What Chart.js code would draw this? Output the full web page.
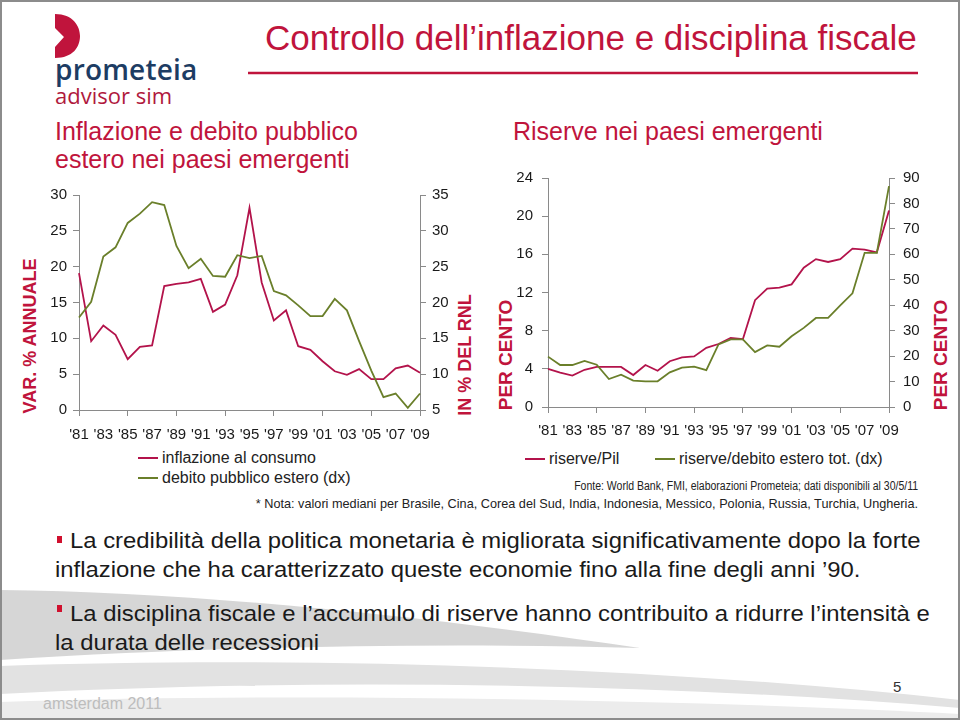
<!DOCTYPE html>
<html lang="it">
<head>
<meta charset="utf-8">
<title>Controllo dell'inflazione e disciplina fiscale</title>
<script src="https://cdn.jsdelivr.net/npm/chart.js@4.4.1/dist/chart.umd.min.js"></script>
<style>
    html, body { margin: 0; padding: 0; background: #fff; }
    #slide { position: relative; width: 960px; height: 720px; overflow: hidden; font-family: 'Liberation Sans', Arial, sans-serif; color: #1a1a1a; }
    .abs { position: absolute; white-space: nowrap; line-height: 1; }
    .rosso { color: #c0143c; }
    .asse { position: absolute; white-space: nowrap; line-height: 1; font-weight: bold; color: #c0143c; transform: translate(-50%, -50%) rotate(-90deg); }
    .legenda { position: absolute; white-space: nowrap; line-height: 1; font-size: 16px; color: #222; }
    .legenda i { display: inline-block; width: 20px; height: 2px; vertical-align: middle; margin-right: 4px; position: relative; top: -1px; }
    .punto { position: absolute; width: 5px; height: 7px; background: #d0102e; }
    .testo { position: absolute; white-space: nowrap; line-height: 1; font-size: 22px; transform-origin: 0 0; transform: scaleX(1.085); }
    #cornice { position: absolute; left: 0; top: 0; width: 960px; height: 720px; box-sizing: border-box; border: 2px solid #8c8c8c; pointer-events: none; }
</style>
</head>
<body>
<div id="slide">
    <!-- sfondo, logo e linea del titolo -->
    <svg class="abs" style="left:0;top:0" width="960" height="720">
        <path d="M0,590 C200,592 430,617 640,648 C430,642 200,647 0,660 Z" fill="#cccccc" opacity="0.8"/>
        <path d="M0,666 C300,656 650,666 960,700 L960,708 C650,682 300,678 0,694 Z" fill="#e2e2e2"/>
        <path d="M0,702 C300,692 700,700 960,714 L960,720 L0,720 Z" fill="#ececec"/>
        <path d="M55,14 C73,14 80,26 80,36 C80,47 73,58 55,58 L55,47 L64,37 L55,28 Z" fill="#c0143c"/>
        <line x1="248" y1="73" x2="918" y2="73" stroke="#c0143c" stroke-width="2.5"/>
    </svg>

    <div class="abs" style="left:55px;top:55px;font-family:'Open Sans',sans-serif;font-size:28px;font-weight:600;letter-spacing:0.2px;color:#1d3c63">prometeia</div>
    <div class="abs" style="left:55px;top:83.5px;font-family:'Open Sans',sans-serif;font-size:22px;color:#b0193d">advisor sim</div>

    <div class="abs rosso" style="left:265px;top:20px;font-size:35px">Controllo dell’inflazione e disciplina fiscale</div>

    <div class="abs rosso" style="left:55px;top:119px;font-size:25px">Inflazione e debito pubblico</div>
    <div class="abs rosso" style="left:55px;top:147px;font-size:25px">estero nei paesi emergenti</div>
    <div class="abs rosso" style="left:513px;top:119px;font-size:25px">Riserve nei paesi emergenti</div>

    <!-- titoli degli assi -->
    <div class="asse" style="left:30px;top:336px;font-size:18px">VAR. % ANNUALE</div>
    <div class="asse" style="left:465px;top:355px;font-size:18px">IN % DEL RNL</div>
    <div class="asse" style="left:505px;top:355px;font-size:19px">PER CENTO</div>
    <div class="asse" style="left:940px;top:355px;font-size:19px">PER CENTO</div>

    <canvas id="graficoInflazione" class="abs" style="left:40px;top:180px" width="430" height="265"></canvas>
    <canvas id="graficoRiserve" class="abs" style="left:500px;top:160px" width="440" height="285"></canvas>

    <!-- legende -->
    <div class="legenda" style="left:138px;top:450px"><i style="background:#b3134b"></i>inflazione al consumo</div>
    <div class="legenda" style="left:138px;top:470px"><i style="background:#6a7f2a"></i>debito pubblico estero (dx)</div>
    <div class="legenda" style="left:525px;top:451px"><i style="background:#b3134b"></i>riserve/Pil</div>
    <div class="legenda" style="left:655px;top:451px"><i style="background:#6a7f2a"></i>riserve/debito estero tot. (dx)</div>

    <div class="abs" style="right:42px;top:480px;font-size:12px;color:#222;transform-origin:100% 0;transform:scaleX(0.875)">Fonte: World Bank, FMI, elaborazioni Prometeia; dati disponibili al 30/5/11</div>
    <div class="abs" style="right:42px;top:498px;font-size:12.7px;color:#222">* Nota: valori mediani per Brasile, Cina, Corea del Sud, India, Indonesia, Messico, Polonia, Russia, Turchia, Ungheria.</div>

    <!-- punti elenco -->
    <div class="punto" style="left:57px;top:536px"></div>
    <div class="testo" style="left:70px;top:530px">La credibilità della politica monetaria è migliorata significativamente dopo la forte</div>
    <div class="testo" style="left:55px;top:559px">inflazione che ha caratterizzato queste economie fino alla fine degli anni ’90.</div>
    <div class="punto" style="left:57px;top:605px"></div>
    <div class="testo" style="left:70px;top:603px">La disciplina fiscale e l’accumulo di riserve hanno contribuito a ridurre l’intensità e</div>
    <div class="testo" style="left:55px;top:632px">la durata delle recessioni</div>

    <div class="abs" style="left:43px;top:696px;font-size:16px;color:#bdbdbd">amsterdam 2011</div>
    <div class="abs" style="left:893px;top:679px;font-size:15px;color:#333">5</div>

    <div id="cornice"></div>
</div>

<script>
// 年份与刻度
var yearLabels = ["'81", "'82", "'83", "'84", "'85", "'86", "'87", "'88", "'89", "'90",
                  "'91", "'92", "'93", "'94", "'95", "'96", "'97", "'98", "'99", "'00",
                  "'01", "'02", "'03", "'04", "'05", "'06", "'07", "'08", "'09"];
var xTickLabels = ["'81", "'83", "'85", "'87", "'89", "'91", "'93", "'95", "'97", "'99", "'01", "'03", "'05", "'07", "'09"];

// 左图：通胀（左轴）与外债（右轴）
var inflazioneConsumo = [19.1, 9.6, 11.8, 10.5, 7.1, 8.8, 9.0, 17.3, 17.6, 17.8,
                         18.3, 13.7, 14.7, 18.8, 28.2, 17.8, 12.5, 13.9, 8.9, 8.4,
                         6.8, 5.4, 4.9, 5.7, 4.3, 4.3, 5.8, 6.2, 5.2];
var debitoPubblicoEstero = [17.9, 20.1, 26.4, 27.7, 31.1, 32.4, 34.0, 33.6, 27.9, 24.8,
                            26.1, 23.7, 23.6, 26.6, 26.2, 26.5, 21.6, 21.0, 19.6, 18.1,
                            18.1, 20.5, 18.9, 14.6, 10.5, 6.8, 7.3, 5.3, 7.3];
var tickInflazione = [0, 5, 10, 15, 20, 25, 30];
var tickDebito = [5, 10, 15, 20, 25, 30, 35];

// 右图：储备/GDP（左轴）与储备/外债（右轴）
var riservePil = [4.0, 3.6, 3.3, 3.9, 4.2, 4.2, 4.2, 3.35, 4.4, 3.8,
                  4.8, 5.2, 5.3, 6.2, 6.6, 7.25, 7.1, 11.2, 12.4, 12.5,
                  12.85, 14.6, 15.5, 15.2, 15.5, 16.6, 16.5, 16.2, 20.6];
var riserveDebitoEstero = [19.8, 16.5, 16.5, 18.1, 16.6, 11.0, 12.7, 10.4, 10.1, 10.1,
                           13.6, 15.5, 15.9, 14.5, 24.6, 26.6, 26.6, 21.6, 24.2, 23.7,
                           27.8, 31.1, 35.0, 35.0, 39.9, 44.7, 60.6, 60.6, 86.8];
var tickRiservePil = [0, 4, 8, 12, 16, 20, 24];
var tickRiserveDebito = [0, 10, 20, 30, 40, 50, 60, 70, 80, 90];

var ROSSO = '#b3134b';
var VERDE = '#6a7f2a';
var COLORE_ASSE = '#8a8a8a';
var COLORE_TESTO = '#1a1a1a';

Chart.defaults.font.family = "'Liberation Sans', Arial, sans-serif";
Chart.defaults.animation = false;

// 纵轴：固定宽度和刻度
function yAxis(position, tickValues, width, pad) {
    return {
        position: position,
        min: tickValues[0],
        max: tickValues[tickValues.length - 1],
        afterBuildTicks: function(scale) {
            scale.ticks = tickValues.map(function(v) { return { value: v }; });
        },
        afterFit: function(scale) { scale.width = width; },
        grid: { drawOnChartArea: false, drawTicks: true, tickLength: 6, color: COLORE_ASSE },
        border: { display: true, color: COLORE_ASSE, width: 1 },
        ticks: { color: COLORE_TESTO, padding: pad, font: { size: 15 } }
    };
}

// 横轴：每两年一个标签
function xAxis(height, pad) {
    return {
        type: 'category',
        offset: false,
        afterFit: function(scale) { scale.height = height; },
        grid: {
            drawOnChartArea: false, drawTicks: true, tickLength: 6, offset: false,
            color: function(ctx) {
                return xTickLabels.indexOf(yearLabels[ctx.index]) >= 0 ? COLORE_ASSE : 'rgba(0,0,0,0)';
            }
        },
        border: { display: true, color: COLORE_ASSE, width: 1 },
        ticks: {
            autoSkip: false, maxRotation: 0, minRotation: 0, padding: pad,
            color: COLORE_TESTO, font: { size: 15 },
            callback: function(value, index) {
                var label = yearLabels[index];
                return xTickLabels.indexOf(label) >= 0 ? label : null;
            }
        }
    };
}

function serie(label, data, axisId, color, order) {
    return {
        label: label, data: data, yAxisID: axisId,
        borderColor: color, backgroundColor: color,
        borderWidth: 1.8, pointRadius: 0, tension: 0, fill: false, order: order
    };
}

var pluginsOff = { legend: { display: false }, tooltip: { enabled: false } };

// 左图
new Chart(document.getElementById('graficoInflazione'), {
    type: 'line',
    data: {
        labels: yearLabels,
        datasets: [
            serie('inflazione al consumo', inflazioneConsumo, 'y', ROSSO, 1),
            serie('debito pubblico estero (dx)', debitoPubblicoEstero, 'y1', VERDE, 0)
        ]
    },
    options: {
        responsive: false,
        layout: { padding: { top: 11, right: 0, bottom: 0, left: 0 } },
        plugins: pluginsOff,
        scales: {
            x: xAxis(35, 10),
            y: yAxis('left', tickInflazione, 39, 6),
            y1: yAxis('right', tickDebito, 50, 6)
        }
    }
});

// 右图
new Chart(document.getElementById('graficoRiserve'), {
    type: 'line',
    data: {
        labels: yearLabels,
        datasets: [
            serie('riserve/Pil', riservePil, 'y', ROSSO, 1),
            serie('riserve/debito estero tot. (dx)', riserveDebitoEstero, 'y1', VERDE, 0)
        ]
    },
    options: {
        responsive: false,
        layout: { padding: { top: 15, right: 0, bottom: 0, left: 0 } },
        plugins: pluginsOff,
        scales: {
            x: xAxis(38, 9),
            y: yAxis('left', tickRiservePil, 48, 9),
            y1: yAxis('right', tickRiserveDebito, 51, 8)
        }
    }
});
</script>
</body>
</html>
